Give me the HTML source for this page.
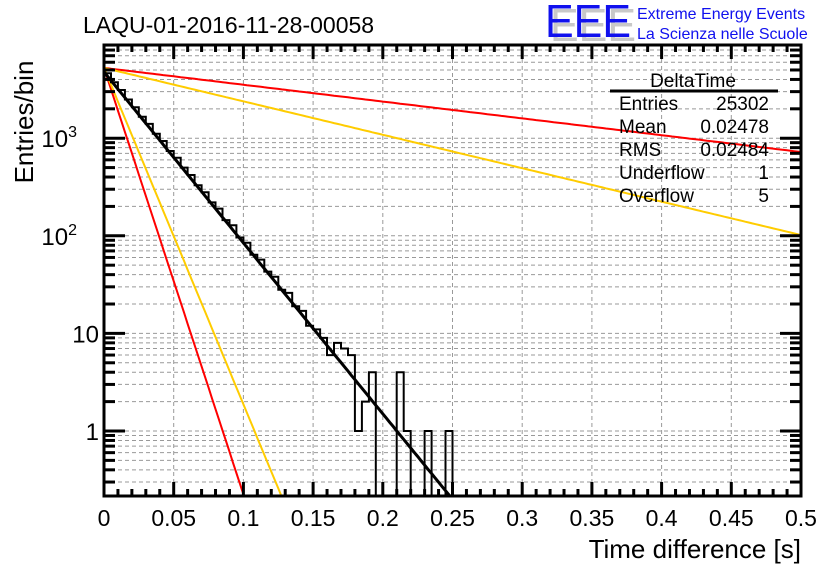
<!DOCTYPE html>
<html><head><meta charset="utf-8"><style>
html,body{margin:0;padding:0;background:#fff;width:836px;height:572px;overflow:hidden}
svg{display:block}
svg text{font-family:"Liberation Sans",sans-serif}
</style></head><body>
<svg id="c" width="836" height="572" xmlns="http://www.w3.org/2000/svg">
<g id="grid"></g>
<g id="curves"></g>
<g id="hist"></g>
<g id="axes"></g>
<text x="83" y="33" font-size="23">LAQU-01-2016-11-28-00058</text>
<g>
<text x="550" y="41" font-size="46" fill="#c8c8c8" textLength="86" lengthAdjust="spacingAndGlyphs">EEE</text>
<text x="545" y="37" font-size="46" fill="#1010ee" textLength="86" lengthAdjust="spacingAndGlyphs">EEE</text>
<text x="637" y="19" font-size="16" fill="#1010ee">Extreme Energy Events</text>
<text x="637" y="39" font-size="16" fill="#1010ee">La Scienza nelle Scuole</text>
</g>
<g font-size="19">
<text x="693" y="87" text-anchor="middle">DeltaTime</text>
<line x1="610" y1="91" x2="778" y2="91" stroke="#000" stroke-width="3"/>
<text x="619" y="110">Entries</text><text x="769" y="110" text-anchor="end">25302</text>
<text x="619" y="133">Mean</text><text x="769" y="133" text-anchor="end">0.02478</text>
<text x="619" y="156">RMS</text><text x="769" y="156" text-anchor="end">0.02484</text>
<text x="619" y="179">Underflow</text><text x="769" y="179" text-anchor="end">1</text>
<text x="619" y="202">Overflow</text><text x="769" y="202" text-anchor="end">5</text>
</g>
<text x="24" y="122" font-size="26" text-anchor="middle" transform="rotate(-90 24 122)" dy="9">Entries/bin</text>
<text x="801" y="558" font-size="26" text-anchor="end">Time difference [s]</text>
</svg>
<script>
const binCounts=[4620,3750,3120,2490,2080,1660,1400,1110,935,740,630,500,420,330,280,220,190,145,128,96,85,64,57,43,38,28,26,19,17,12,11,9,6,8,7,6,1,2,4,0,0,0,4,1,0,0,1,0,0,1];
const binWidth=0.005;
const curveAmps=[5250,5250,5250,5250,4770];
const curveTaus=[0.00994,0.0126,0.252,0.1268,0.0248];
const curveColors=["#f00","#fc0","#f00","#fc0","#000"];
const xTicks=[0,0.05,0.1,0.15,0.2,0.25,0.3,0.35,0.4,0.45,0.5];
const yLabels=[[1,"1"],[10,"10"],[100,"10<tspan dy='-10' font-size='16'>2</tspan>"],[1000,"10<tspan dy='-10' font-size='16'>3</tspan>"]];
const L=104,R=801,T=45,B=496;
const X=v=>L+(v/0.5)*(R-L);
const Y=v=>431-Math.log10(v)*97.6;
const NS="http://www.w3.org/2000/svg";
function mk(tag,attrs,parent){const e=document.createElementNS(NS,tag);for(const k in attrs)e.setAttribute(k,attrs[k]);parent.appendChild(e);return e;}
const grid=document.getElementById('grid'),axes=document.getElementById('axes'),hist=document.getElementById('hist'),curves=document.getElementById('curves');
for(const t of xTicks){if(t===0||t===0.5)continue;const g=mk('line',{x1:X(t),x2:X(t),y1:T,y2:B,stroke:'#999','stroke-dasharray':'4,3','stroke-width':1},grid);

}
for(let d=-1;d<=3;d++)for(let m=1;m<=9;m++){const v=m*Math.pow(10,d);const y=Y(v);if(y<T||y>B)continue;
const g=mk('line',{x1:L,x2:R,y1:y,y2:y,stroke:'#999','stroke-dasharray':'4,3','stroke-width':1},grid);


const len=m===1?21:11;
mk('line',{x1:L,x2:L+len,y1:y,y2:y,stroke:'#000','stroke-width':3},axes);
mk('line',{x1:R,x2:R-len,y1:y,y2:y,stroke:'#000','stroke-width':3},axes);}
for(let i=0;i<=50;i++){const t=i*0.01;const x=X(t);const len=(i%5===0)?14:7;
mk('line',{x1:x,x2:x,y1:B,y2:B-len,stroke:'#000','stroke-width':3},axes);
mk('line',{x1:x,x2:x,y1:T,y2:T+len,stroke:'#000','stroke-width':3},axes);}
for(const t of xTicks){const tx=mk('text',{x:X(t),y:526,'font-size':23,'text-anchor':'middle'},axes);tx.textContent=String(t);

}
for(const [v,s] of yLabels){const tx=mk('text',{x:v>=100?77:99,y:Y(v)+9,'font-size':24,'text-anchor':'end'},axes);tx.innerHTML=s;

}
mk('rect',{x:L,y:T,width:R-L,height:B-T,fill:'none',stroke:'#000','stroke-width':3},axes);
const cp=document.createElementNS(NS,'clipPath');cp.id='clip';mk('rect',{x:L,y:T,width:R-L,height:B-T},cp);document.getElementById('c').appendChild(cp);
curves.setAttribute('clip-path','url(#clip)');hist.setAttribute('clip-path','url(#clip)');
curveAmps.forEach((a,i)=>{let d='';for(let k=0;k<=200;k++){const t=k*0.0025;const v=a*Math.exp(-t/curveTaus[i]);let y=Y(Math.max(v,1e-3));d+=(k?'L':'M')+X(t).toFixed(1)+','+y.toFixed(1);}
const p=mk('path',{d:d,fill:'none',stroke:curveColors[i],'stroke-width':i===4?3:2},curves);

});
let d='M'+X(0)+','+(B+5);
binCounts.forEach((c,i)=>{const y=c>0?Y(c):B+5;d+='L'+X(i*binWidth).toFixed(1)+','+y.toFixed(1)+'L'+X((i+1)*binWidth).toFixed(1)+','+y.toFixed(1);});
d+='L'+X(binCounts.length*binWidth).toFixed(1)+','+(B+5);
const hp=mk('path',{d:d,fill:'none',stroke:'#000','stroke-width':2},hist);


</script>
</body></html>
